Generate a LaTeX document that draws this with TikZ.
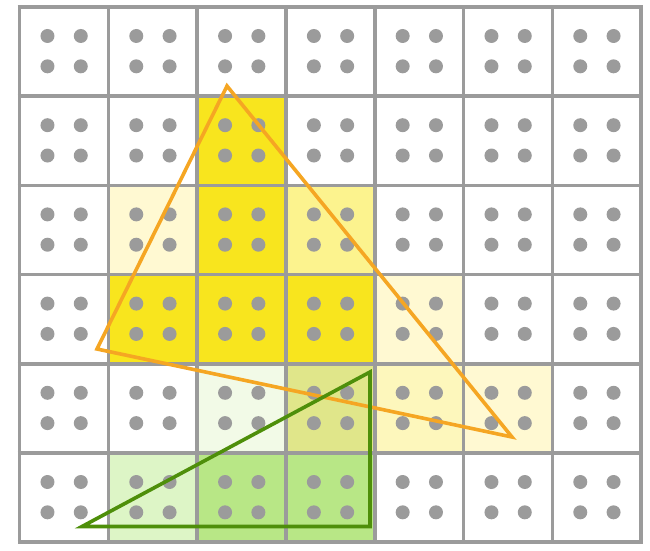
\documentclass[tikz,border=0pt]{standalone}
\definecolor{gridgray}{HTML}{9B9B9B}
\definecolor{fullY}{HTML}{F8E51E}
\definecolor{lightY}{HTML}{FFF9D2}
\definecolor{midY}{HTML}{FCF38E}
\definecolor{softY}{HTML}{FDF7BC}
\definecolor{oliveY}{HTML}{E0E68A}
\definecolor{paleG}{HTML}{F2FAE7}
\definecolor{lightG}{HTML}{DDF5C6}
\definecolor{midG}{HTML}{B8E786}
\definecolor{orangeL}{HTML}{F5A623}
\definecolor{greenL}{HTML}{4E8F0A}
\begin{document}
\begin{tikzpicture}[x=1pt,y=-1pt,
  gridline/.style={draw=gridgray,line width=3.6pt},
  dotmark/.style={fill=gridgray},
  tri/.style={line width=3.6pt,miter limit=10}]
\useasboundingbox (0,0) rectangle (650,550);
\def\cw{88.8}\def\ch{89.2}\def\xo{19.5}\def\yo{7}
% cell fills: col/row/colour
\foreach \c/\r/\col in {2/1/fullY,1/2/lightY,2/2/fullY,3/2/midY,1/3/fullY,2/3/fullY,3/3/fullY,4/3/lightY,2/4/paleG,3/4/oliveY,4/4/softY,5/4/lightY,1/5/lightG,2/5/midG,3/5/midG}{
  \fill[\col] ({\xo+\c*\cw},{\yo+\r*\ch}) rectangle ++(\cw,\ch);
}
% dots
\foreach \c in {0,...,6}{
  \foreach \r in {0,...,5}{
    \foreach \dx in {0.315,0.69}{
      \foreach \dy in {0.325,0.665}{
        \fill[dotmark] ({\xo+(\c+\dx)*\cw},{\yo+(\r+\dy)*\ch}) circle (7);
      }
    }
  }
}
% grid
\foreach \c in {0,...,7}{
  \draw[gridline] ({\xo+\c*\cw},{\yo-1.8}) -- ({\xo+\c*\cw},{\yo+6*\ch+1.8});
}
\foreach \r in {0,...,6}{
  \draw[gridline] ({\xo-1.8},{\yo+\r*\ch}) -- ({\xo+7*\cw+1.8},{\yo+\r*\ch});
}
% triangles
\coordinate (oA) at (227,86);
\coordinate (oB) at (97,349);
\coordinate (oC) at (512,437);
\coordinate (gA) at (82,526.5);
\coordinate (gB) at (370,372);
\coordinate (gC) at (370,526.5);
\draw[tri,orangeL] (oA) -- (oB) -- (oC) -- cycle;
\draw[tri,greenL] (gA) -- (gB) -- (gC) -- cycle;
\end{tikzpicture}
\end{document}
